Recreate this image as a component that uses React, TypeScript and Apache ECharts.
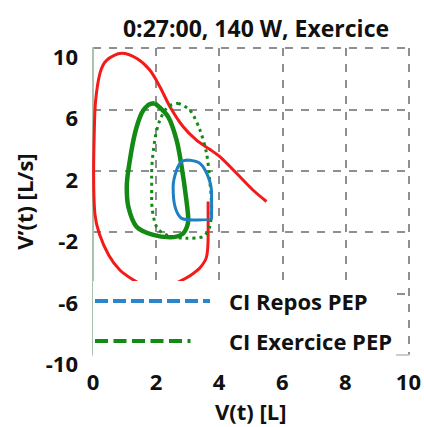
import React, { useEffect, useRef } from "react";
import * as echarts from "echarts";

const titleText = "0:27:00, 140 W, Exercice";
const xName = "V(t) [L]";
const yName = "V’(t) [L/s]";
const legendNames = ["CI Repos PEP", "CI Exercice PEP"];

// red loop: [volume, flow]
const redLoop: number[][] = [
  [3.65, 0.0], [3.65, -2.2], [3.6, -3.6], [3.4, -4.3], [3.1, -4.8], [2.75, -5.2],
  [2.35, -5.55], [2.0, -5.65], [1.6, -5.45], [1.27, -5.1], [0.85, -4.46],
  [0.5, -3.5], [0.2, -2.1], [0.06, -0.8], [0.02, 1.8], [0.04, 4.5], [0.08, 6.5],
  [0.22, 8.35], [0.43, 9.2], [0.91, 9.65], [1.38, 9.33], [1.8, 8.57], [2.12, 7.48],
  [2.44, 6.18], [2.86, 4.87], [3.28, 4.0], [3.7, 3.4], [4.02, 2.92], [4.55, 1.84],
  [5.07, 0.75], [5.5, 0.0],
];

// green solid loop
const greenLoop: number[][] = [
  [1.96, 6.4], [2.38, 5.53], [2.65, 4.0], [2.81, 2.27], [2.96, 0.1], [3.02, -1.2],
  [2.86, -2.07], [2.44, -2.33], [1.91, -2.18], [1.38, -1.64], [1.12, -0.34],
  [1.07, 0.96], [1.17, 2.7], [1.33, 4.44], [1.54, 5.75], [1.75, 6.29], [1.96, 6.4],
];

// green dotted loop
const greenDottedLoop: number[][] = [
  [2.7, 6.4], [3.07, 5.96], [3.39, 4.66], [3.6, 3.14], [3.7, 1.4], [3.76, -0.34],
  [3.7, -1.64], [3.49, -2.29], [2.96, -2.4], [2.33, -2.18], [2.01, -1.64],
  [1.86, 0.1], [1.86, 1.84], [1.96, 4.0], [2.12, 5.3], [2.38, 6.18], [2.7, 6.4],
];

// blue loop
const blueLoop: number[][] = [
  [3.02, 2.7], [3.39, 2.49], [3.65, 1.62], [3.76, 0.53], [3.76, -1.1], [3.17, -1.2],
  [2.81, -1.1], [2.6, -0.34], [2.54, 0.96], [2.65, 2.05], [2.81, 2.6], [3.02, 2.7],
];

const FONT = "Open Sans";

// legend icons: dashed strokes drawn as small filled bars
const blueDashIcon =
  "path://M0,0h13v4h-13z M18,0h13v4h-13z M36,0h13v4h-13z M54,0h13v4h-13z M72,0h13v4h-13z M90,0h13v4h-13z M108,0h7v4h-7z";
const greenDashIcon =
  "path://M0,0h13v4h-13z M18.5,0h13v4h-13z M37,0h13v4h-13z M55.5,0h13v4h-13z M74,0h13v4h-13z M92.5,0h3v4h-3z M114.9,1.9h0.1v0.2h-0.1z";

export default function App() {
  const ref = useRef<HTMLDivElement>(null);
  useEffect(() => {
    if (!ref.current) return;
    const chart = echarts.init(ref.current, undefined, { renderer: "svg" });
    const gridLine = { show: true, lineStyle: { color: "#8f8f8f", width: 2, type: [8, 8] as any } };
    const txt = { fontFamily: FONT, fontWeight: "bold", fontSize: 22, color: "#111" };
    chart.setOption({
      animation: false,
      backgroundColor: "#ffffff",
      title: {
        text: titleText,
        left: 251,
        textAlign: "center",
        top: 11,
        textStyle: { ...txt, fontSize: 23 },
      },
      grid: { left: 93, right: 15, top: 48, bottom: 71 },
      legend: {
        show: true,
        orient: "vertical",
        left: 93,
        top: 281,
        data: [
          { name: legendNames[0], icon: blueDashIcon },
          { name: legendNames[1], icon: greenDashIcon },
        ],
        itemWidth: 115,
        itemHeight: 4,
        itemGap: 12,
        backgroundColor: "#ffffff",
        padding: [6, 4, 4, 2],
        textStyle: { ...txt, padding: [0, 0, 0, 14], lineHeight: 28 },
      },
      xAxis: {
        type: "value",
        min: 0,
        max: 10,
        interval: 2,
        name: xName,
        nameLocation: "middle",
        nameGap: 45,
        nameTextStyle: txt,
        axisLine: { show: true, onZero: false, lineStyle: { color: "#c8cfc8", width: 2 } },
        axisTick: { show: false },
        axisLabel: { ...txt, margin: 15 },
        splitLine: gridLine,
      },
      yAxis: {
        type: "value",
        min: -10,
        max: 10,
        interval: 4,
        name: yName,
        nameLocation: "middle",
        nameGap: 58,
        nameTextStyle: txt,
        axisLine: { show: true, onZero: false, lineStyle: { color: "#aac4aa", width: 2 } },
        axisTick: { show: false },
        axisLabel: { ...txt, margin: 15, verticalAlign: "top", lineHeight: 16 },
        splitLine: gridLine,
      },
      series: [
        {
          type: "line",
          name: "red",
          data: redLoop,
          smooth: 0.3,
          showSymbol: false,
          lineStyle: { color: "#f51a1a", width: 3 },
          z: 3,
        },
        {
          type: "line",
          name: "greenSolid",
          data: greenLoop,
          smooth: 0.3,
          showSymbol: false,
          lineStyle: { color: "#138a13", width: 4.5 },
          z: 3,
        },
        {
          type: "line",
          name: "greenDotted",
          data: greenDottedLoop,
          smooth: 0.3,
          showSymbol: false,
          lineStyle: { color: "#138a13", width: 3, type: [3, 4] },
          z: 3,
        },
        {
          type: "line",
          name: "blue",
          data: blueLoop,
          smooth: 0.3,
          showSymbol: false,
          lineStyle: { color: "#1f7fc2", width: 3 },
          z: 3,
        },
        {
          type: "line",
          name: legendNames[0],
          data: [],
          showSymbol: false,
          itemStyle: { color: "#2a86c8" },
          lineStyle: { color: "#2a86c8", width: 4 },
        },
        {
          type: "line",
          name: legendNames[1],
          data: [],
          showSymbol: false,
          itemStyle: { color: "#138a13" },
          lineStyle: { color: "#138a13", width: 4 },
        },
      ],
    });
    return () => chart.dispose();
  }, []);
  return <div ref={ref} style={{ width: 424, height: 427, position: "absolute", left: 0, top: 0 }} />;
}
